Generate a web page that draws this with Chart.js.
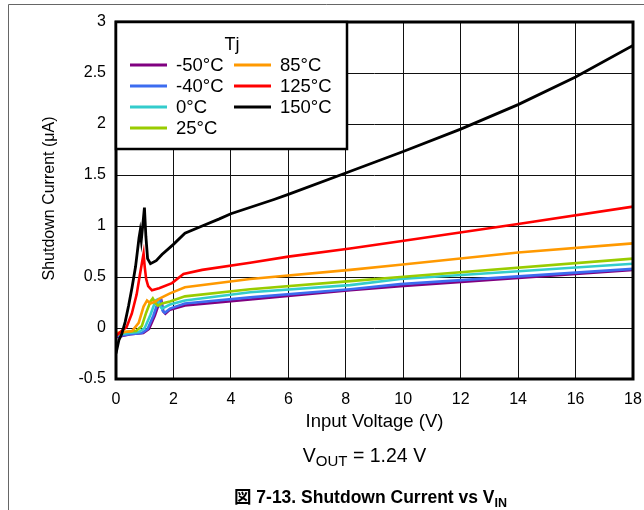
<!DOCTYPE html>
<html>
<head>
<meta charset="utf-8">
<script src="https://cdn.jsdelivr.net/npm/chart.js@4.4.0/dist/chart.umd.min.js"></script>
<style>
  html, body { margin: 0; padding: 0; background: #fff; }
</style>
</head>
<body>
<canvas id="chart" width="644" height="510"></canvas>
<script>
// Shutdown current vs input voltage, one curve per junction temperature
const tempLabels = ['-50°C', '-40°C', '0°C', '25°C', '85°C', '125°C', '150°C'];
const tempColors = ['#800080', '#3c6cf0', '#33cccc', '#99cc00', '#ff9900', '#ff0000', '#000000'];

const vinM50 = [0, 0.5, 0.95, 1.15, 1.35, 1.52, 1.58, 1.65, 1.72, 1.88, 2.4, 4.67, 8.15, 9.9, 18];
const iqM50  = [-0.09, -0.06, -0.05, -0.01, 0.12, 0.26, 0.27, 0.16, 0.14, 0.18, 0.22, 0.28, 0.37, 0.41, 0.57];

const vinM40 = [0, 0.5, 0.9, 1.1, 1.3, 1.48, 1.55, 1.62, 1.7, 1.88, 2.4, 4.67, 8.15, 9.9, 18];
const iqM40  = [-0.08, -0.06, -0.05, -0.01, 0.12, 0.27, 0.28, 0.17, 0.15, 0.19, 0.24, 0.30, 0.38, 0.43, 0.58];

const vin0 = [0, 0.4, 0.8, 1.0, 1.2, 1.38, 1.45, 1.52, 1.6, 1.88, 2.4, 4.67, 8.15, 9.9, 18];
const iq0  = [-0.07, -0.05, -0.04, 0.0, 0.13, 0.27, 0.28, 0.22, 0.19, 0.23, 0.27, 0.35, 0.42, 0.48, 0.63];

const vin25 = [0, 0.3, 0.7, 0.9, 1.05, 1.2, 1.28, 1.36, 1.45, 1.6, 1.88, 2.4, 4.67, 8.15, 9.9, 18];
const iq25  = [-0.06, -0.04, -0.03, 0.02, 0.15, 0.26, 0.29, 0.25, 0.22, 0.24, 0.26, 0.31, 0.38, 0.46, 0.50, 0.68];

const vin85 = [0, 0.3, 0.56, 0.79, 0.96, 1.08, 1.2, 1.37, 1.53, 1.88, 2.4, 4.67, 8.15, 9.9, 14, 18];
const iq85  = [-0.05, -0.04, -0.03, 0.05, 0.21, 0.27, 0.24, 0.26, 0.29, 0.34, 0.40, 0.48, 0.57, 0.62, 0.74, 0.83];

const vin125 = [0, 0.15, 0.37, 0.55, 0.72, 0.83, 0.96, 1.0, 1.05, 1.12, 1.25, 1.5, 1.95, 2.35, 3, 4.67, 6, 8.15, 9.9, 14, 18];
const iq125  = [-0.08, -0.04, 0.01, 0.14, 0.33, 0.52, 0.73, 0.6, 0.48, 0.41, 0.37, 0.39, 0.44, 0.53, 0.57, 0.64, 0.70, 0.78, 0.85, 1.02, 1.19];

const vin150 = [0, 0.1, 0.2, 0.32, 0.44, 0.56, 0.68, 0.8, 0.84, 0.88, 0.93, 0.99, 1.04, 1.1, 1.2, 1.4, 1.6, 2, 2.4, 3, 3.6, 4, 5.5, 6, 8, 10, 12, 14, 16, 18];
const iq150  = [-0.25, -0.12, -0.06, 0.06, 0.22, 0.4, 0.6, 0.88, 0.95, 0.86, 1.0, 1.18, 0.9, 0.68, 0.63, 0.66, 0.72, 0.82, 0.93, 1.0, 1.07, 1.12, 1.26, 1.31, 1.52, 1.73, 1.95, 2.19, 2.46, 2.77];

const xTicks = [0, 2, 4, 6, 8, 10, 12, 14, 16, 18];
const yTicks = [-0.5, 0, 0.5, 1, 1.5, 2, 2.5, 3];

const vinSets = [vinM50, vinM40, vin0, vin25, vin85, vin125, vin150];
const iqSets = [iqM50, iqM40, iq0, iq25, iq85, iq125, iq150];

function toPoints(xs, ys) {
    return xs.map(function (x, i) { return { x: x, y: ys[i] }; });
}

const datasets = tempLabels.map(function (label, i) {
    return {
        label: label,
        data: toPoints(vinSets[i], iqSets[i]),
        borderColor: tempColors[i],
        backgroundColor: tempColors[i],
        borderWidth: i === 6 ? 2.8 : 2.6,
        pointRadius: 0,
        showLine: true,
        tension: 0,
        order: tempLabels.length - i,
    };
});

const FONT = '"Liberation Sans", Arial, sans-serif';

// draws text with a subscript part, centered on cx
function drawSubText(ctx, parts, cx, y) {
    var total = 0;
    parts.forEach(function (p) {
        ctx.font = p.font;
        p.w = ctx.measureText(p.text).width;
        total += p.w;
    });
    var x = cx - total / 2;
    ctx.textAlign = 'left';
    ctx.textBaseline = 'alphabetic';
    parts.forEach(function (p) {
        ctx.font = p.font;
        ctx.fillText(p.text, x, y + (p.dy || 0));
        x += p.w;
    });
}

const decorations = {
    id: 'decorations',
    beforeDraw: function (chart) {
        var ctx = chart.ctx;
        ctx.save();
        ctx.fillStyle = '#fff';
        ctx.fillRect(0, 0, chart.width, chart.height);
        // outer page frame
        ctx.strokeStyle = '#666';
        ctx.lineWidth = 1;
        ctx.beginPath();
        ctx.moveTo(8.5, chart.height);
        ctx.lineTo(8.5, 4.5);
        ctx.lineTo(chart.width, 4.5);
        ctx.stroke();
        ctx.restore();
    },
    afterDraw: function (chart) {
        var ctx = chart.ctx;
        var a = chart.chartArea;
        ctx.save();

        // plot frame
        ctx.strokeStyle = '#000';
        ctx.lineWidth = 3;
        ctx.strokeRect(a.left, a.top, a.right - a.left, a.bottom - a.top);

        // legend box
        var lx = a.left, ly = a.top, lw = 231, lh = 127;
        ctx.fillStyle = '#fff';
        ctx.fillRect(lx, ly, lw, lh);
        ctx.lineWidth = 2.5;
        ctx.strokeRect(lx, ly, lw, lh);

        ctx.fillStyle = '#000';
        ctx.font = '18px ' + FONT;
        ctx.textAlign = 'center';
        ctx.textBaseline = 'middle';
        ctx.fillText('Tj', lx + 116, ly + 23);

        ctx.textAlign = 'left';
        ctx.font = '18.5px ' + FONT;
        tempLabels.forEach(function (label, i) {
            var col = i < 4 ? 0 : 1;
            var row = i < 4 ? i : i - 4;
            var sx = lx + 14 + col * 104;
            var sy = ly + 43 + row * 21;
            ctx.strokeStyle = tempColors[i];
            ctx.lineWidth = 3;
            ctx.beginPath();
            ctx.moveTo(sx, sy);
            ctx.lineTo(sx + 37, sy);
            ctx.stroke();
            ctx.fillStyle = '#000';
            ctx.fillText(label, sx + 46, sy + 1);
        });

        // axis titles
        var cx = (a.left + a.right) / 2;
        ctx.fillStyle = '#000';
        ctx.font = '18.5px ' + FONT;
        ctx.textAlign = 'center';
        ctx.textBaseline = 'middle';
        ctx.fillText('Input Voltage (V)', cx, 422);

        ctx.font = '16px ' + FONT;
        ctx.save();
        ctx.translate(50, (a.top + a.bottom) / 2 - 2);
        ctx.rotate(-Math.PI / 2);
        ctx.fillText('Shutdown Current (\u03bcA)', 0, 0);
        ctx.restore();

        // condition and caption
        drawSubText(ctx, [
            { text: 'V', font: '19.5px ' + FONT },
            { text: 'OUT', font: '15px ' + FONT, dy: 4 },
            { text: ' = 1.24 V', font: '19.5px ' + FONT },
        ], cx - 10, 462);

        drawSubText(ctx, [
            { text: '図', font: 'bold 17.5px "Noto Sans CJK JP", sans-serif' },
            { text: ' 7-13. Shutdown Current vs V', font: 'bold 17.5px ' + FONT },
            { text: 'IN', font: 'bold 12.5px ' + FONT, dy: 4 },
        ], cx - 4, 503);

        ctx.restore();
    }
};

new Chart(document.getElementById('chart'), {
    type: 'scatter',
    data: { datasets: datasets },
    options: {
        responsive: false,
        animation: false,
        devicePixelRatio: 1,
        layout: { padding: { top: 22, right: 11, left: 0, bottom: 0 } },
        plugins: {
            legend: { display: false },
            tooltip: { enabled: false },
        },
        scales: {
            x: {
                type: 'linear',
                min: 0,
                max: 18,
                afterFit: function (scale) {
                    scale.height = 131;
                    scale.paddingLeft = 0;
                    scale.paddingRight = 0;
                },
                afterBuildTicks: function (scale) {
                    scale.ticks = xTicks.map(function (v) { return { value: v }; });
                },
                grid: { color: '#111', lineWidth: 1, drawTicks: false },
                border: { display: false },
                ticks: {
                    color: '#000',
                    padding: 11,
                    maxRotation: 0,
                    font: { family: FONT, size: 16 },
                    callback: function (v) { return String(v); },
                },
            },
            y: {
                type: 'linear',
                min: -0.5,
                max: 3,
                afterFit: function (scale) {
                    scale.width = 116;
                    scale.paddingTop = 0;
                    scale.paddingBottom = 0;
                },
                afterBuildTicks: function (scale) {
                    scale.ticks = yTicks.map(function (v) { return { value: v }; });
                },
                grid: { color: '#111', lineWidth: 1, drawTicks: false },
                border: { display: false },
                ticks: {
                    color: '#000',
                    padding: 10,
                    font: { family: FONT, size: 16 },
                    callback: function (v) { return String(v); },
                },
            },
        },
    },
    plugins: [decorations],
});
</script>
</body>
</html>
